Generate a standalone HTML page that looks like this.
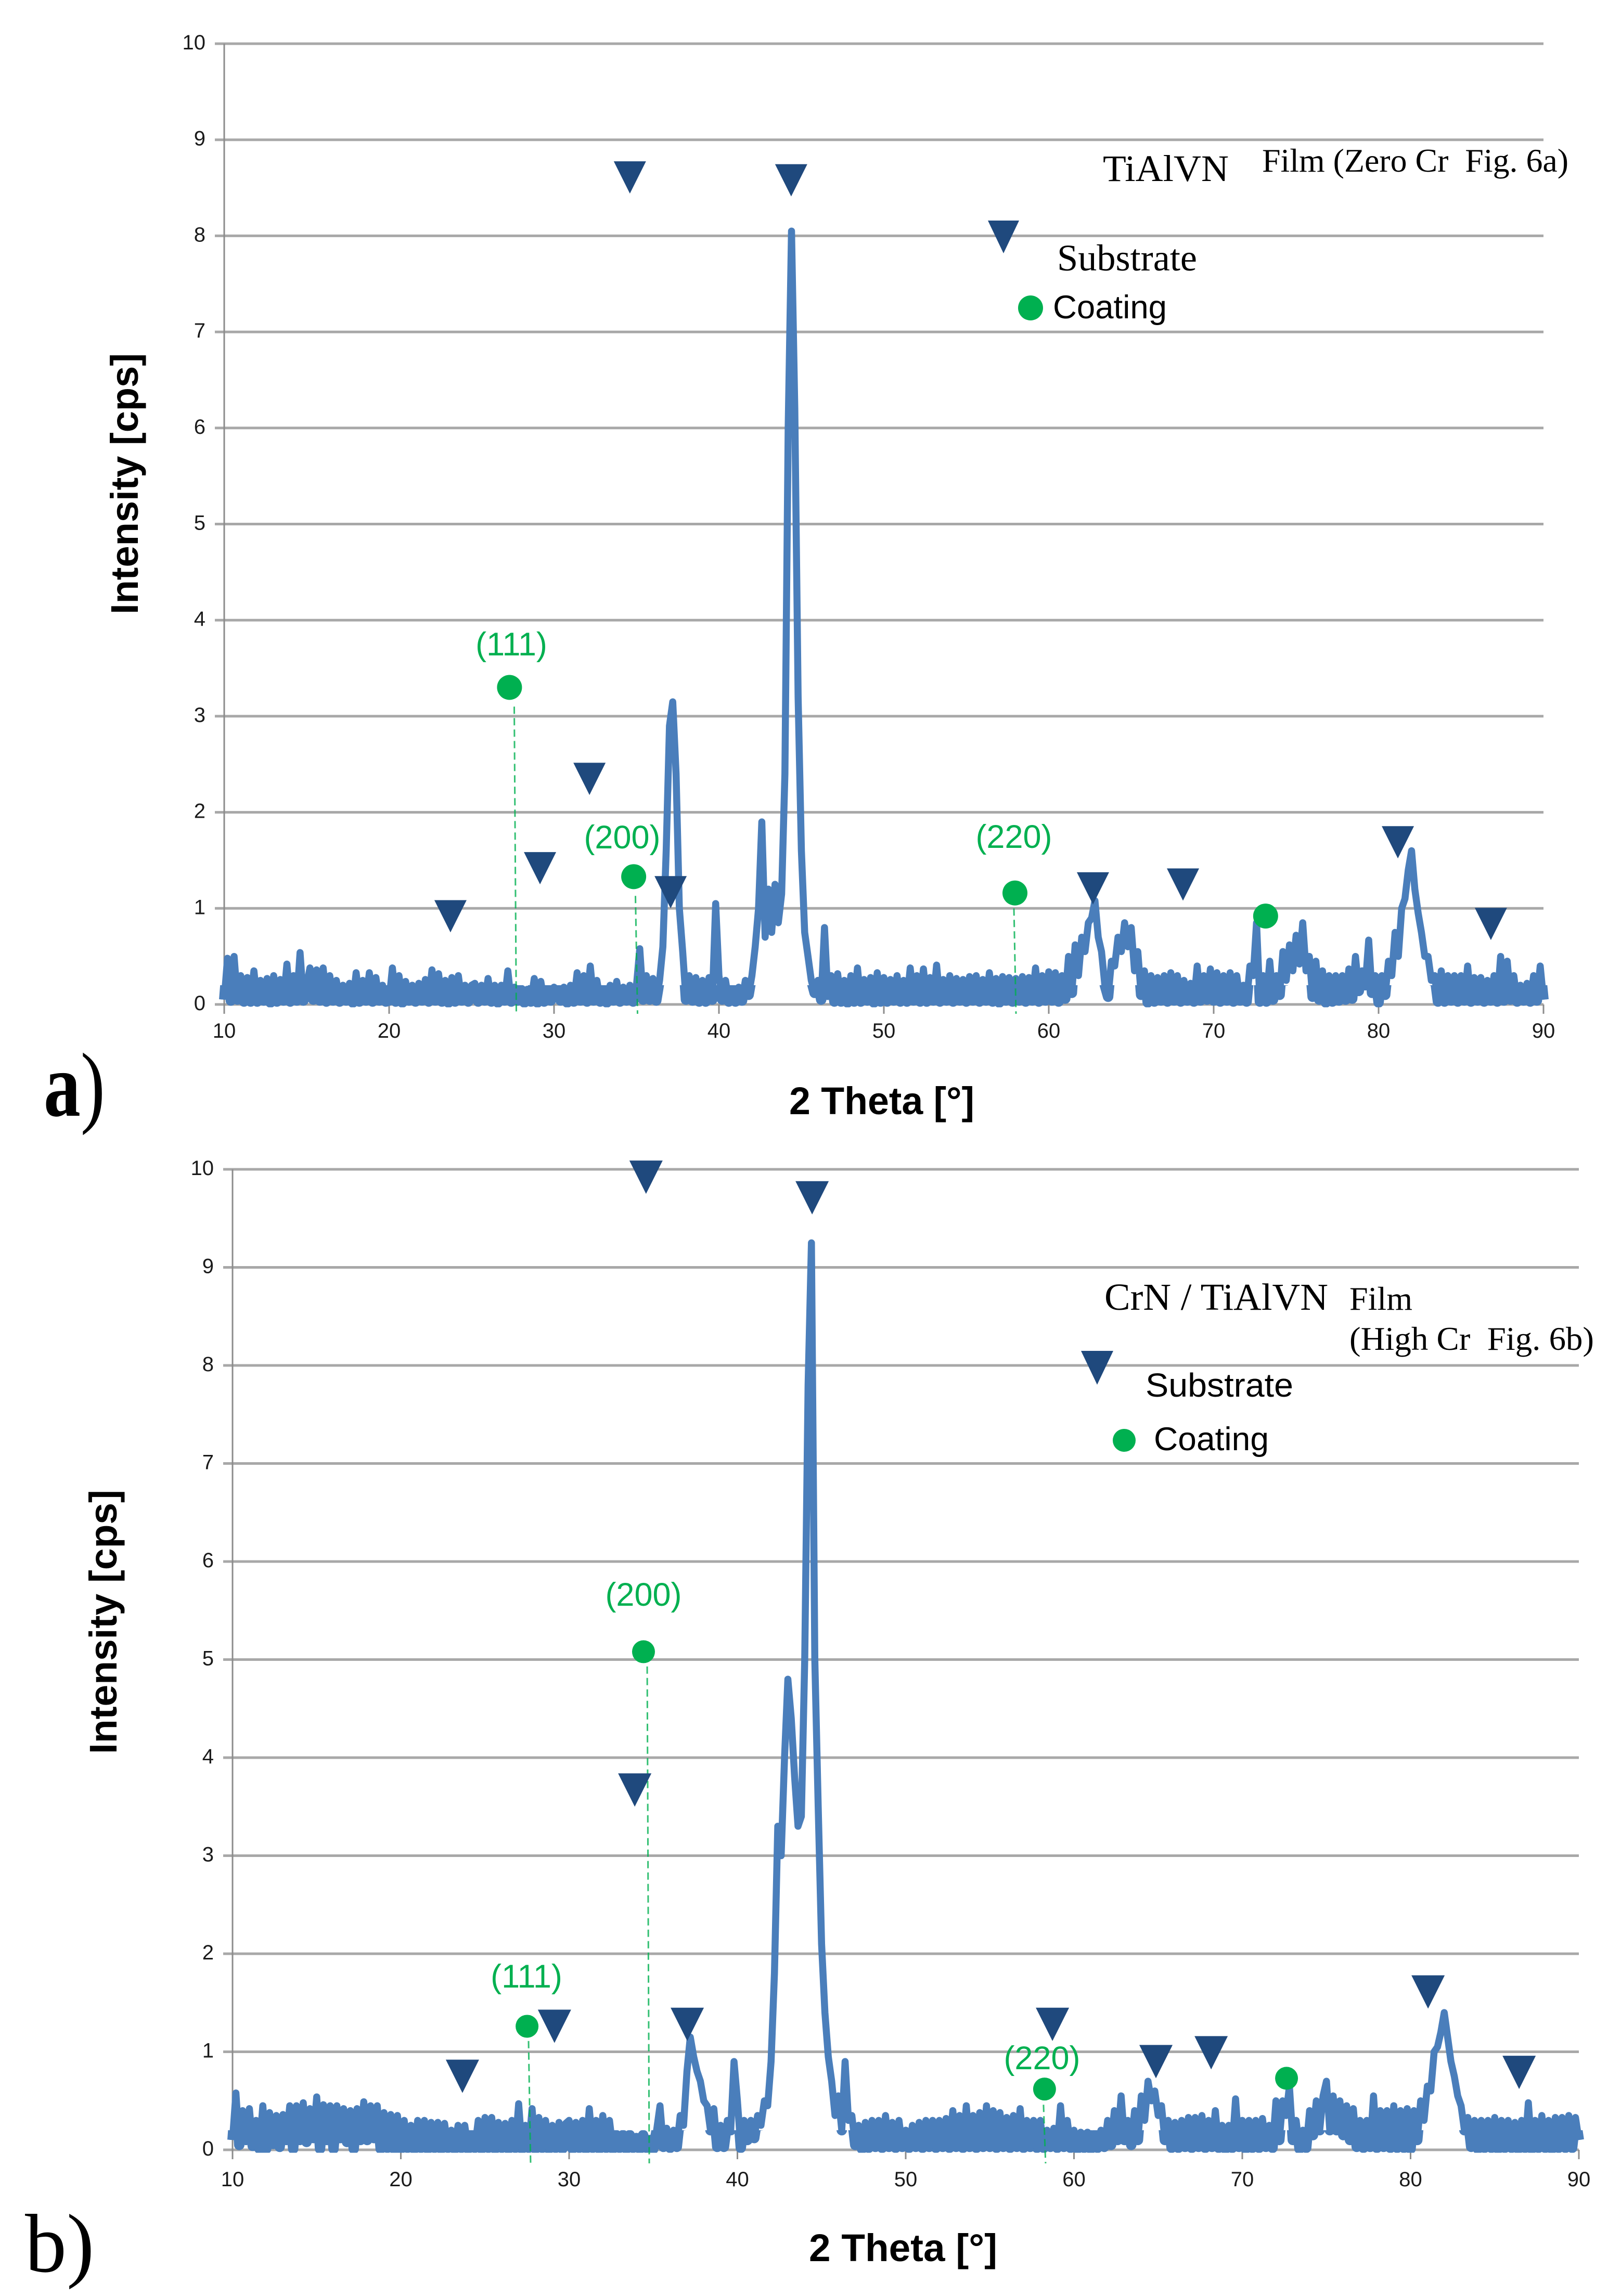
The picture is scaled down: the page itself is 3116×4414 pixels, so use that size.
<!DOCTYPE html>
<html lang="en">
<head>
<meta charset="utf-8">
<title>XRD patterns of TiAlVN and CrN / TiAlVN films</title>
<style>
html,body{margin:0;padding:0;background:#fff;width:3116px;height:4414px;overflow:hidden}
svg{display:block}
text{white-space:pre}
.sans{font-family:"Liberation Sans",sans-serif}
.serif{font-family:"Liberation Serif",serif}
.axis-title{font-family:"Liberation Sans",sans-serif;font-weight:bold;font-size:74px;fill:#000}
.hkl{font-family:"Liberation Sans",sans-serif;font-size:63px;fill:#00b050;text-anchor:middle}
.tick{font-family:"Liberation Sans",sans-serif;font-size:40px;fill:#1a1a1a}
</style>
</head>
<body>
<svg id="figure" xmlns="http://www.w3.org/2000/svg" width="3116" height="4414" viewBox="0 0 3116 4414">
  <rect x="0" y="0" width="3116" height="4414" fill="#ffffff"/>

  <g id="panel-a"></g>
  <g id="panel-b"></g>

  <!-- panel a text -->
  <text class="axis-title" text-anchor="middle" transform="translate(265 930) rotate(-90)" textLength="502" lengthAdjust="spacingAndGlyphs">Intensity [cps]</text>
  <text class="axis-title" x="1517" y="2142" textLength="356" lengthAdjust="spacingAndGlyphs">2 Theta [°]</text>
  <text class="serif" x="84" y="2145" font-size="175" fill="#000" textLength="118" lengthAdjust="spacingAndGlyphs"><tspan font-weight="bold">a</tspan>)</text>
  <text class="hkl" x="983" y="1260">(111)</text>
  <text class="hkl" x="1196" y="1631">(200)</text>
  <text class="hkl" x="1949" y="1630">(220)</text>
  <text class="serif" x="2120" y="348" font-size="72" fill="#000" textLength="242" lengthAdjust="spacingAndGlyphs">TiAlVN</text>
  <text class="serif" x="2426" y="330" font-size="64" fill="#000" textLength="589" lengthAdjust="spacingAndGlyphs">Film (Zero Cr  Fig. 6a)</text>
  <polygon points="1899,424 1959,424 1929,487" fill="#1f497d"/>
  <text class="serif" x="2032" y="520" font-size="72" fill="#000" textLength="269" lengthAdjust="spacingAndGlyphs">Substrate</text>
  <circle cx="1981" cy="592" r="24" fill="#00b050"/>
  <text class="sans" x="2024" y="612" font-size="63" fill="#000" textLength="219" lengthAdjust="spacingAndGlyphs">Coating</text>

  <!-- panel b text -->
  <text class="axis-title" text-anchor="middle" transform="translate(224 3118) rotate(-90)" textLength="508" lengthAdjust="spacingAndGlyphs">Intensity [cps]</text>
  <text class="axis-title" x="1555" y="4347" textLength="362" lengthAdjust="spacingAndGlyphs">2 Theta [°]</text>
  <text class="serif" x="48" y="4367" font-size="160" fill="#000">b)</text>
  <text class="hkl" x="1012" y="3821">(111)</text>
  <text class="hkl" x="1237" y="3087">(200)</text>
  <text class="hkl" x="2003" y="3978">(220)</text>
  <text class="serif" x="2123" y="2518" font-size="73" fill="#000" textLength="430" lengthAdjust="spacingAndGlyphs">CrN / TiAlVN</text>
  <text class="serif" x="2594" y="2518" font-size="64" fill="#000" textLength="121" lengthAdjust="spacingAndGlyphs">Film</text>
  <text class="serif" x="2594" y="2595" font-size="64" fill="#000" textLength="470" lengthAdjust="spacingAndGlyphs">(High Cr  Fig. 6b)</text>
  <polygon points="2078,2597 2140,2597 2109,2662" fill="#1f497d"/>
  <text class="sans" x="2202" y="2685" font-size="64" fill="#000" textLength="284" lengthAdjust="spacingAndGlyphs">Substrate</text>
  <circle cx="2161" cy="2769" r="22" fill="#00b050"/>
  <text class="sans" x="2218" y="2788" font-size="63" fill="#000" textLength="221" lengthAdjust="spacingAndGlyphs">Coating</text>
</svg>

<script>
// ---------- shared tick labels ----------
const xTickLabels = [10, 20, 30, 40, 50, 60, 70, 80, 90];
const yTickLabels = [0, 1, 2, 3, 4, 5, 6, 7, 8, 9, 10];
const angleStart = 10;
const angleStep = 0.2;

// ---------- panel a series: one intensity every 0.2 degrees from 10 to 90 ----------
const intensityA = [
.05,.48,.04,.5,.05,.3,.03,.28,.03,.35,.03,.25,.04,.27,.02,.3,.03,.26,.04,.42,.03,.3,.04,.54,.04,
.2,.38,.05,.36,.04,.38,.03,.3,.04,.25,.03,.2,.04,.22,.02,.33,.03,.25,.04,.33,.03,.28,.04,.2,.03,
.04,.38,.03,.3,.02,.24,.04,.2,.03,.22,.04,.26,.03,.36,.04,.32,.03,.25,.02,.28,.03,.3,.04,.2,.03,
.2,.22,.03,.2,.04,.27,.03,.2,.02,.2,.04,.35,.03,.18,.04,.15,.02,.14,.03,.27,.02,.24,.03,.16,.04,
.18,.15,.04,.18,.02,.2,.03,.33,.04,.3,.03,.4,.04,.25,.03,.15,.02,.2,.04,.24,.03,.18,.04,.2,.03,
.2,.58,.05,.3,.05,.27,.04,.25,.6,1.6,2.9,3.15,2.4,1.0,.55,.05,.3,.04,.28,.03,.25,.03,.28,.05,1.05,
.3,.05,.25,.03,.15,.03,.18,.04,.25,.1,.3,.6,1.0,1.9,.7,1.2,.75,1.25,.85,1.15,2.4,6,8.05,6.2,3.2,
1.6,.75,.5,.25,.12,.25,.05,.8,.1,.3,.03,.32,.03,.25,.02,.3,.03,.38,.03,.26,.04,.28,.02,.33,.03,
.28,.03,.26,.04,.3,.03,.25,.03,.38,.04,.3,.03,.37,.03,.28,.04,.41,.03,.26,.04,.3,.03,.27,.04,.26,
.03,.29,.04,.3,.03,.26,.04,.33,.03,.27,.02,.29,.04,.28,.03,.27,.04,.29,.03,.28,.04,.38,.03,.3,.04,
.34,.04,.33,.03,.3,.06,.5,.12,.62,.3,.7,.55,.85,.9,1.08,.7,.55,.2,.08,.45,.4,.7,.55,.85,.6,
.8,.35,.55,.1,.35,.02,.3,.03,.28,.04,.3,.03,.33,.04,.3,.03,.25,.04,.22,.03,.4,.04,.3,.05,.37,
.04,.33,.03,.3,.04,.33,.03,.3,.04,.2,.03,.4,.3,.85,.03,.3,.03,.45,.05,.3,.1,.55,.25,.62,.35,
.72,.42,.85,.35,.5,.08,.45,.05,.35,.02,.3,.03,.3,.04,.3,.05,.37,.06,.5,.14,.35,.2,.67,.12,.3,
.02,.3,.1,.45,.3,.75,.5,1.0,1.1,1.4,1.6,1.2,.95,.75,.5,.5,.25,.3,.03,.35,.03,.3,.04,.3,.03,
.3,.04,.4,.03,.28,.04,.28,.03,.25,.04,.3,.03,.5,.04,.45,.05,.3,.03,.2,.04,.22,.03,.3,.04,.4,
.05
];

// ---------- panel a annotations ----------
const substrateAnglesA = [34.6, 44.38, 32.15, 29.15, 23.72, 37.07, 62.68, 68.14, 81.17, 86.81];
const substrateLevelsA = [8.44, 8.41, 2.18, 1.25, 0.75, 1.0, 1.04, 1.08, 1.52, 0.67];
const coatingAnglesA = [27.3, 34.83, 57.95, 73.15];
const coatingLevelsA = [3.30, 1.33, 1.16, 0.92];
const dropAnglesA = [27.65, 35.0, 57.95];
const dropTopLevelsA = [3.1, 1.13, 1.0];

// ---------- panel b series: one intensity every 0.2 degrees from 10 to 90 ----------
const intensityB = [
.1,.58,.05,.4,.1,.42,.04,.3,.01,.45,.01,.38,.06,.35,.03,.36,.1,.45,.01,.45,.1,.48,.08,.42,.12,
.54,.01,.46,.1,.45,.01,.45,.12,.42,.08,.4,.01,.42,.1,.49,.1,.45,.12,.45,.01,.38,.02,.36,.01,.35,
.01,.3,.02,.25,.01,.3,.02,.3,.01,.28,.02,.28,.01,.27,.02,.2,.01,.25,.02,.25,.01,.15,.02,.3,.01,
.33,.02,.33,.01,.28,.02,.27,.01,.3,.02,.47,.01,.25,.02,.42,.01,.33,.02,.3,.01,.25,.02,.28,.01,.27,
.3,.01,.28,.02,.3,.01,.42,.02,.3,.01,.35,.02,.3,.01,.15,.02,.15,.01,.15,.02,.12,.01,.15,.02,.1,
.01,.2,.45,.03,.22,.02,.2,.03,.35,.25,.8,1.15,.95,.8,.7,.5,.45,.2,.42,.03,.25,.03,.3,.2,.9,
.5,.02,.3,.1,.3,.12,.35,.25,.5,.45,.9,1.8,3.3,3.0,4.0,4.8,4.4,3.8,3.3,3.4,5,7.8,9.25,5,3.5,
2.1,1.4,.95,.7,.35,.55,.2,.9,.3,.35,.05,.25,.01,.28,.02,.3,.03,.3,.02,.35,.03,.28,.02,.3,.03,
.2,.02,.25,.03,.28,.02,.3,.03,.3,.02,.3,.03,.32,.02,.4,.03,.35,.02,.45,.03,.35,.02,.38,.03,.45,
.03,.4,.02,.38,.03,.33,.02,.35,.03,.42,.02,.3,.03,.3,.02,.3,.02,.2,.03,.22,.02,.45,.03,.3,.02,
.2,.01,.18,.02,.18,.01,.15,.02,.2,.03,.3,.05,.4,.1,.55,.1,.3,.05,.4,.1,.55,.3,.7,.5,.6,
.35,.45,.1,.3,.02,.28,.02,.3,.03,.33,.02,.33,.03,.35,.02,.3,.03,.4,.02,.25,.01,.25,.02,.52,.03,
.3,.01,.3,.02,.3,.02,.32,.03,.25,.02,.5,.1,.5,.35,.65,.1,.3,.01,.2,.02,.4,.15,.5,.2,.55,
.7,.2,.55,.2,.5,.15,.45,.1,.42,.03,.3,.02,.3,.03,.55,.02,.4,.03,.4,.02,.45,.02,.4,.02,.42,
.01,.4,.1,.5,.3,.65,.6,1.0,1.05,1.2,1.4,1.15,.9,.75,.55,.45,.2,.33,.03,.3,.01,.3,.02,.3,.02,
.33,.01,.3,.02,.3,.02,.28,.01,.3,.02,.48,.01,.3,.02,.35,.02,.3,.01,.33,.02,.33,.02,.35,.02,.33,
.1
];

// ---------- panel b annotations ----------
const substrateAnglesB = [34.57, 44.44, 33.9, 23.66, 29.13, 37.02, 58.72, 64.87, 68.15, 81.04, 86.45];
const substrateLevelsB = [9.75, 9.54, 3.5, 0.58, 1.09, 1.11, 1.11, 0.73, 0.82, 1.44, 0.62];
const coatingAnglesB = [27.5, 34.42, 58.25, 72.63];
const coatingLevelsB = [1.26, 5.08, 0.62, 0.73];
const dropAnglesB = [27.65, 34.7, 58.25];
const dropTopLevelsB = [1.11, 4.93, 0.46];

const SVGNS = 'http://www.w3.org/2000/svg';

function make(tag, attrs) {
  const el = document.createElementNS(SVGNS, tag);
  for (const k in attrs) el.setAttribute(k, attrs[k]);
  return el;
}

function drawPanel(host, box, series, subAngles, subLevels, coatAngles, coatLevels, dropAngles, dropTops, markerSize, dotRadius, labelDrop, clipId) {
  const xScale = t => box.x0 + (t - 10) * (box.x1 - box.x0) / 80;
  const yScale = v => box.y0 - v * (box.y0 - box.y1) / 10;

  yTickLabels.forEach(function (v) {
    const line = make('line', {x1: box.x0 - 18, x2: box.x1, y1: yScale(v), y2: yScale(v), stroke: '#a8a8a8', 'stroke-width': 5});
    
    
    host.appendChild(line);
    const label = make('text', {x: box.x0 - 36, y: yScale(v) + 11, 'text-anchor': 'end', class: 'tick'});
    
    
    label.textContent = v;
    host.appendChild(label);
  });

  const yAxis = make('line', {x1: box.x0, x2: box.x0, y1: box.y1, y2: box.y0 + 18, stroke: '#8c8c8c', 'stroke-width': 3});
  
  
  host.appendChild(yAxis);

  xTickLabels.forEach(function (t) {
    const tick = make('line', {x1: xScale(t), x2: xScale(t), y1: box.y0, y2: box.y0 + 18, stroke: '#8c8c8c', 'stroke-width': 3});
    
    
    host.appendChild(tick);
    const label = make('text', {x: xScale(t), y: box.y0 + box.labelOffset, 'text-anchor': 'middle', class: 'tick'});
    
    
    label.textContent = t;
    host.appendChild(label);
  });

  const pts = series.map(function (v, i) {
    return xScale(angleStart + i * angleStep).toFixed(1) + ',' + yScale(v).toFixed(1);
  }).join(' ');

  // noise floor: same samples drawn wider, limited to the band near the baseline
  const clip = make('clipPath', {id: clipId});
  clip.appendChild(make('rect', {x: box.x0 - 10, y: yScale(0.2), width: box.x1 - box.x0 + 20, height: yScale(-0.03) - yScale(0.2)}));
  host.appendChild(clip);
  const floor = make('polyline', {points: pts, fill: 'none', stroke: '#4a7ebb', 'stroke-width': 20, 'stroke-linejoin': 'round', 'clip-path': 'url(#' + clipId + ')'});
  
  
  host.appendChild(floor);

  const line = make('polyline', {points: pts, fill: 'none', stroke: '#4a7ebb', 'stroke-width': 13.5, 'stroke-linejoin': 'round', 'stroke-linecap': 'butt'});
  
  
  host.appendChild(line);

  dropAngles.forEach(function (t, i) {
    const drop = make('line', {x1: xScale(t) - 2, x2: xScale(t) + 2, y1: yScale(dropTops[i]), y2: box.y0 + labelDrop, stroke: '#00b050', 'stroke-width': 3, 'stroke-dasharray': '14 8', 'stroke-opacity': 0.8});
    
    
    host.appendChild(drop);
  });

  subAngles.forEach(function (t, i) {
    const px = xScale(t), py = yScale(subLevels[i]);
    const tri = make('polygon', {points: (px - markerSize / 2) + ',' + (py - markerSize) + ' ' + (px + markerSize / 2) + ',' + (py - markerSize) + ' ' + px + ',' + py, fill: '#1f497d'});
    
    
    host.appendChild(tri);
  });

  coatAngles.forEach(function (t, i) {
    const dot = make('circle', {cx: xScale(t), cy: yScale(coatLevels[i]), r: dotRadius, fill: '#00b050'});
    
    
    host.appendChild(dot);
  });
}

drawPanel(document.getElementById('panel-a'),
  {x0: 431, x1: 2967, y0: 1931, y1: 84, labelOffset: 64},
  intensityA, substrateAnglesA, substrateLevelsA, coatingAnglesA, coatingLevelsA, dropAnglesA, dropTopLevelsA, 62, 24, 18, 'floor-clip-a');

drawPanel(document.getElementById('panel-b'),
  {x0: 447, x1: 3035, y0: 4133, y1: 2248, labelOffset: 70},
  intensityB, substrateAnglesB, substrateLevelsB, coatingAnglesB, coatingLevelsB, dropAnglesB, dropTopLevelsB, 64, 22, 26, 'floor-clip-b');
</script>
</body>
</html>
